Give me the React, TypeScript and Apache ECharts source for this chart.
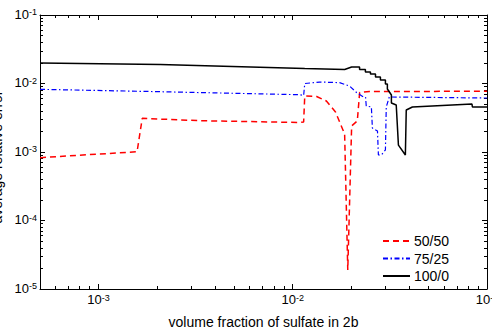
import React, { useEffect, useRef } from 'react';
import * as echarts from 'echarts';

const seriesNames = ['50/50', '75/25', '100/0'];

const x5050 = [5e-4, 1.58e-3, 1.68e-3, 3.34e-3, 1.087e-2, 1.138e-2, 1.153e-2, 1.327e-2, 1.49e-2, 1.66e-2, 1.85e-2, 1.92e-2, 2.01e-2, 2.15e-2, 2.21e-2, 2.48e-2, 0.1];
const y5050 = [8.26e-4, 1.01e-3, 3.1e-3, 2.86e-3, 2.7e-3, 2.75e-3, 6.58e-3, 6.47e-3, 5.56e-3, 3.84e-3, 1.83e-3, 1.89e-5, 2.4e-3, 2.84e-3, 7.4e-3, 7.64e-3, 7.7e-3];

const x7525 = [5e-4, 2.08e-3, 1.087e-2, 1.138e-2, 1.153e-2, 1.374e-2, 1.742e-2, 1.96e-2, 2.13e-2, 2.29e-2, 2.37e-2, 2.39e-2, 2.54e-2, 2.57e-2, 2.73e-2, 2.76e-2, 2.86e-2, 3.0e-2, 3.03e-2, 3.14e-2, 0.1];
const y7525 = [8.22e-3, 7.59e-3, 6.86e-3, 6.7e-3, 9.99e-3, 1.05e-2, 1.03e-2, 9.18e-3, 7.4e-3, 6.46e-3, 6.36e-3, 4.7e-3, 4.54e-3, 2.24e-3, 2.03e-3, 9.04e-4, 9.04e-4, 1.07e-3, 4.54e-3, 6.36e-3, 6.14e-3];

const x1000 = [5e-4, 2.08e-3, 1.153e-2, 1.85e-2, 2.01e-2, 2.208e-2, 2.208e-2, 2.366e-2, 2.366e-2, 2.512e-2, 2.512e-2, 2.667e-2, 2.667e-2, 2.827e-2, 2.827e-2, 3.0e-2, 3.0e-2, 3.07e-2, 3.07e-2, 3.22e-2, 3.22e-2, 3.41e-2, 3.50e-2, 3.80e-2, 3.84e-2, 4.13e-2, 8.37e-2, 8.41e-2, 0.1];
const y1000 = [1.99e-2, 1.90e-2, 1.656e-2, 1.60e-2, 1.742e-2, 1.742e-2, 1.60e-2, 1.60e-2, 1.473e-2, 1.473e-2, 1.377e-2, 1.377e-2, 1.245e-2, 1.245e-2, 1.125e-2, 1.125e-2, 9.83e-3, 9.83e-3, 8.32e-3, 6.79e-3, 5.19e-3, 4.85e-3, 1.26e-3, 9.04e-4, 4.1e-3, 4.54e-3, 5.02e-3, 4.54e-3, 4.54e-3];

const xMajor = [1e-3, 1e-2, 1e-1];
const yMajor = [1e-5, 1e-4, 1e-3, 1e-2, 1e-1];
const xMin = 5e-4, xMax = 0.1, yMin = 1e-5, yMax = 0.1;

const minorBetween = (lo: number, hi: number) => {
  const out: number[] = [];
  for (let e = -6; e <= 0; e++) {
    for (let m = 2; m <= 9; m++) {
      const v = m * Math.pow(10, e);
      if (v > lo * 1.0001 && v < hi * 0.9999) out.push(v);
    }
  }
  return out;
};
const xMinor = minorBetween(xMin, xMax);
const yMinor = minorBetween(yMin, yMax);

const FONT = 'Liberation Sans, Arial, Helvetica, sans-serif';

const fmt = (v: number) => {
  const e = Math.round(Math.log10(v));
  return `{b|10}{s|${e}}`;
};

const rich = {
  b: { fontSize: 13, fontFamily: FONT, color: '#000', verticalAlign: 'bottom', lineHeight: 13 },
  s: { fontSize: 9, fontFamily: FONT, color: '#000', verticalAlign: 'top', lineHeight: 9, padding: [0, 0, 8, 0] },
};

const pairs = (xs: number[], ys: number[]) => xs.map((x, i) => [x, ys[i]]);

export default function App() {
  const ref = useRef<HTMLDivElement>(null);
  useEffect(() => {
    if (!ref.current) return;
    const chart = echarts.init(ref.current, undefined, { renderer: 'svg' });
    const gridPos = { left: 40, right: 5, top: 15, bottom: 44, containLabel: false, outerBoundsMode: 'none' };
    const axLine = { show: true, lineStyle: { color: '#000', width: 1 } };
    const baseX = (gridIndex: number, position: string) => ({
      type: 'log', logBase: 10, min: xMin, max: xMax, gridIndex, position,
      splitLine: { show: false }, minorTick: { show: false }, minorSplitLine: { show: false },
    });
    const baseY = (gridIndex: number, position: string) => ({
      type: 'log', logBase: 10, min: yMin, max: yMax, gridIndex, position,
      splitLine: { show: false }, minorTick: { show: false }, minorSplitLine: { show: false },
    });
    const option: any = {
      animation: false,
      backgroundColor: '#fff',
      grid: [{ ...gridPos }, { ...gridPos }],
      xAxis: [
        {
          ...baseX(0, 'bottom'),
          axisLine: axLine,
          axisTick: { show: true, inside: true, length: 5, customValues: xMajor, lineStyle: { color: '#000' } },
          axisLabel: { show: true, customValues: xMajor, formatter: fmt, rich, margin: 4 },
          name: 'volume fraction of sulfate in 2b',
          nameLocation: 'middle',
          nameGap: 21,
          nameTextStyle: { fontSize: 14, fontFamily: FONT, color: '#000' },
        },
        {
          ...baseX(0, 'top'),
          axisLine: axLine,
          axisTick: { show: true, inside: true, length: 5, customValues: xMajor, lineStyle: { color: '#000' } },
          axisLabel: { show: false },
        },
        {
          ...baseX(1, 'bottom'),
          axisLine: { show: false },
          axisTick: { show: true, inside: true, length: 3, customValues: xMinor, lineStyle: { color: '#000' } },
          axisLabel: { show: false },
        },
        {
          ...baseX(1, 'top'),
          axisLine: { show: false },
          axisTick: { show: true, inside: true, length: 3, customValues: xMinor, lineStyle: { color: '#000' } },
          axisLabel: { show: false },
        },
      ],
      yAxis: [
        {
          ...baseY(0, 'left'),
          axisLine: axLine,
          axisTick: { show: true, inside: true, length: 5, customValues: yMajor, lineStyle: { color: '#000' } },
          axisLabel: { show: true, customValues: yMajor, formatter: fmt, rich, margin: 3, padding: [0, 0, 2, 0] },
          name: 'average relative error',
          nameLocation: 'middle',
          nameGap: 26,
          nameTextStyle: { fontSize: 14, fontFamily: FONT, color: '#000', padding: [0, 10, 0, 0] },
        },
        {
          ...baseY(0, 'right'),
          axisLine: axLine,
          axisTick: { show: true, inside: true, length: 5, customValues: yMajor, lineStyle: { color: '#000' } },
          axisLabel: { show: false },
        },
        {
          ...baseY(1, 'left'),
          axisLine: { show: false },
          axisTick: { show: true, inside: true, length: 3, customValues: yMinor, lineStyle: { color: '#000' } },
          axisLabel: { show: false },
        },
        {
          ...baseY(1, 'right'),
          axisLine: { show: false },
          axisTick: { show: true, inside: true, length: 3, customValues: yMinor, lineStyle: { color: '#000' } },
          axisLabel: { show: false },
        },
      ],
      legend: {
        orient: 'vertical',
        left: 377,
        top: 229,
        itemWidth: 27,
        itemHeight: 14,
        itemGap: 3.5,
        data: seriesNames,
        itemStyle: { opacity: 0 },
        textStyle: { fontSize: 14, fontFamily: FONT, color: '#000', padding: [0, 0, 0, -1] },
      },
      series: [
        {
          name: seriesNames[0], type: 'line', xAxisIndex: 0, yAxisIndex: 0,
          data: pairs(x5050, y5050), symbol: 'none', showSymbol: false,
          lineStyle: { color: '#ff0000', width: 1.5, type: [6, 4] }, itemStyle: { color: '#ff0000' },
        },
        {
          name: seriesNames[1], type: 'line', xAxisIndex: 0, yAxisIndex: 0,
          data: pairs(x7525, y7525), symbol: 'none', showSymbol: false,
          lineStyle: { color: '#0000ff', width: 1.2, type: [5, 2.5, 1.5, 2.5] }, itemStyle: { color: '#0000ff' },
        },
        {
          name: seriesNames[2], type: 'line', xAxisIndex: 0, yAxisIndex: 0,
          data: pairs(x1000, y1000), symbol: 'none', showSymbol: false,
          lineStyle: { color: '#000', width: 1.5, type: 'solid' }, itemStyle: { color: '#000' },
        },
      ],
    };
    chart.setOption(option);
    return () => chart.dispose();
  }, []);
  return (
    <div
      ref={ref}
      style={{ position: 'fixed', left: 0, top: 0, width: 492, height: 333, background: '#fff' }}
    />
  );
}
